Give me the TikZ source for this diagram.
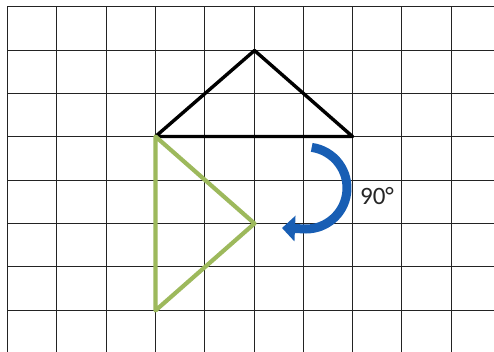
\documentclass[tikz,border=0pt]{standalone}
\usepackage{fontspec}
\setmainfont{Carlito}
\usetikzlibrary{arrows.meta}
\definecolor{gridc}{RGB}{35,35,35}
\definecolor{olive}{RGB}{157,185,92}
\definecolor{arrowblue}{RGB}{24,94,180}
\tikzset{
  gridline/.style={draw=gridc, line width=1.5pt},
  origtri/.style={draw=black, line width=3.4pt, line join=round, line cap=round},
  imagetri/.style={draw=olive, line width=4.2pt, line join=round, line cap=round},
  turnarrow/.style={draw=arrowblue, line width=9pt, -{Triangle[length=13pt,width=25pt]}},
  anglelabel/.style={font=\fontsize{25}{28}\selectfont, text=black!85, inner sep=0pt}
}
\begin{document}
\begin{tikzpicture}[x=1pt,y=1pt]
\useasboundingbox (0,0) rectangle (494,352);
\fill[white] (0,0) rectangle (494,352);
% grid
\foreach \gxv in {7.5,56.5,106.5,155.5,204.5,254.5,303.5,352.5,401.5,451.5}
  \draw[gridline] (\gxv,0) -- (\gxv,345.5);
\foreach \gyv in {345.5,301.5,258.5,215.5,171.5,128.5,85.5,41.5}
  \draw[gridline] (7.5,\gyv) -- (494,\gyv);
% vertices
\coordinate (A) at (254.5,301.5);
\coordinate (B) at (155.5,215.5);
\coordinate (C) at (352.5,215.5);
\coordinate (G) at (155.5,41.5);
\coordinate (H) at (254.5,128.5);
% triangles
\draw[origtri] (A) -- (B) -- (C) -- cycle;
\draw[imagetri] (B) -- (G) -- (H) -- cycle;
% rotation arrow
\coordinate (S) at (311.7,204.6);
\coordinate (T) at (282,124);
\draw[turnarrow] (S) arc[start angle=82, end angle=-90, radius=41] -- (T);
\node[anglelabel] (L) at (377,156) {90°};
\end{tikzpicture}
\end{document}
